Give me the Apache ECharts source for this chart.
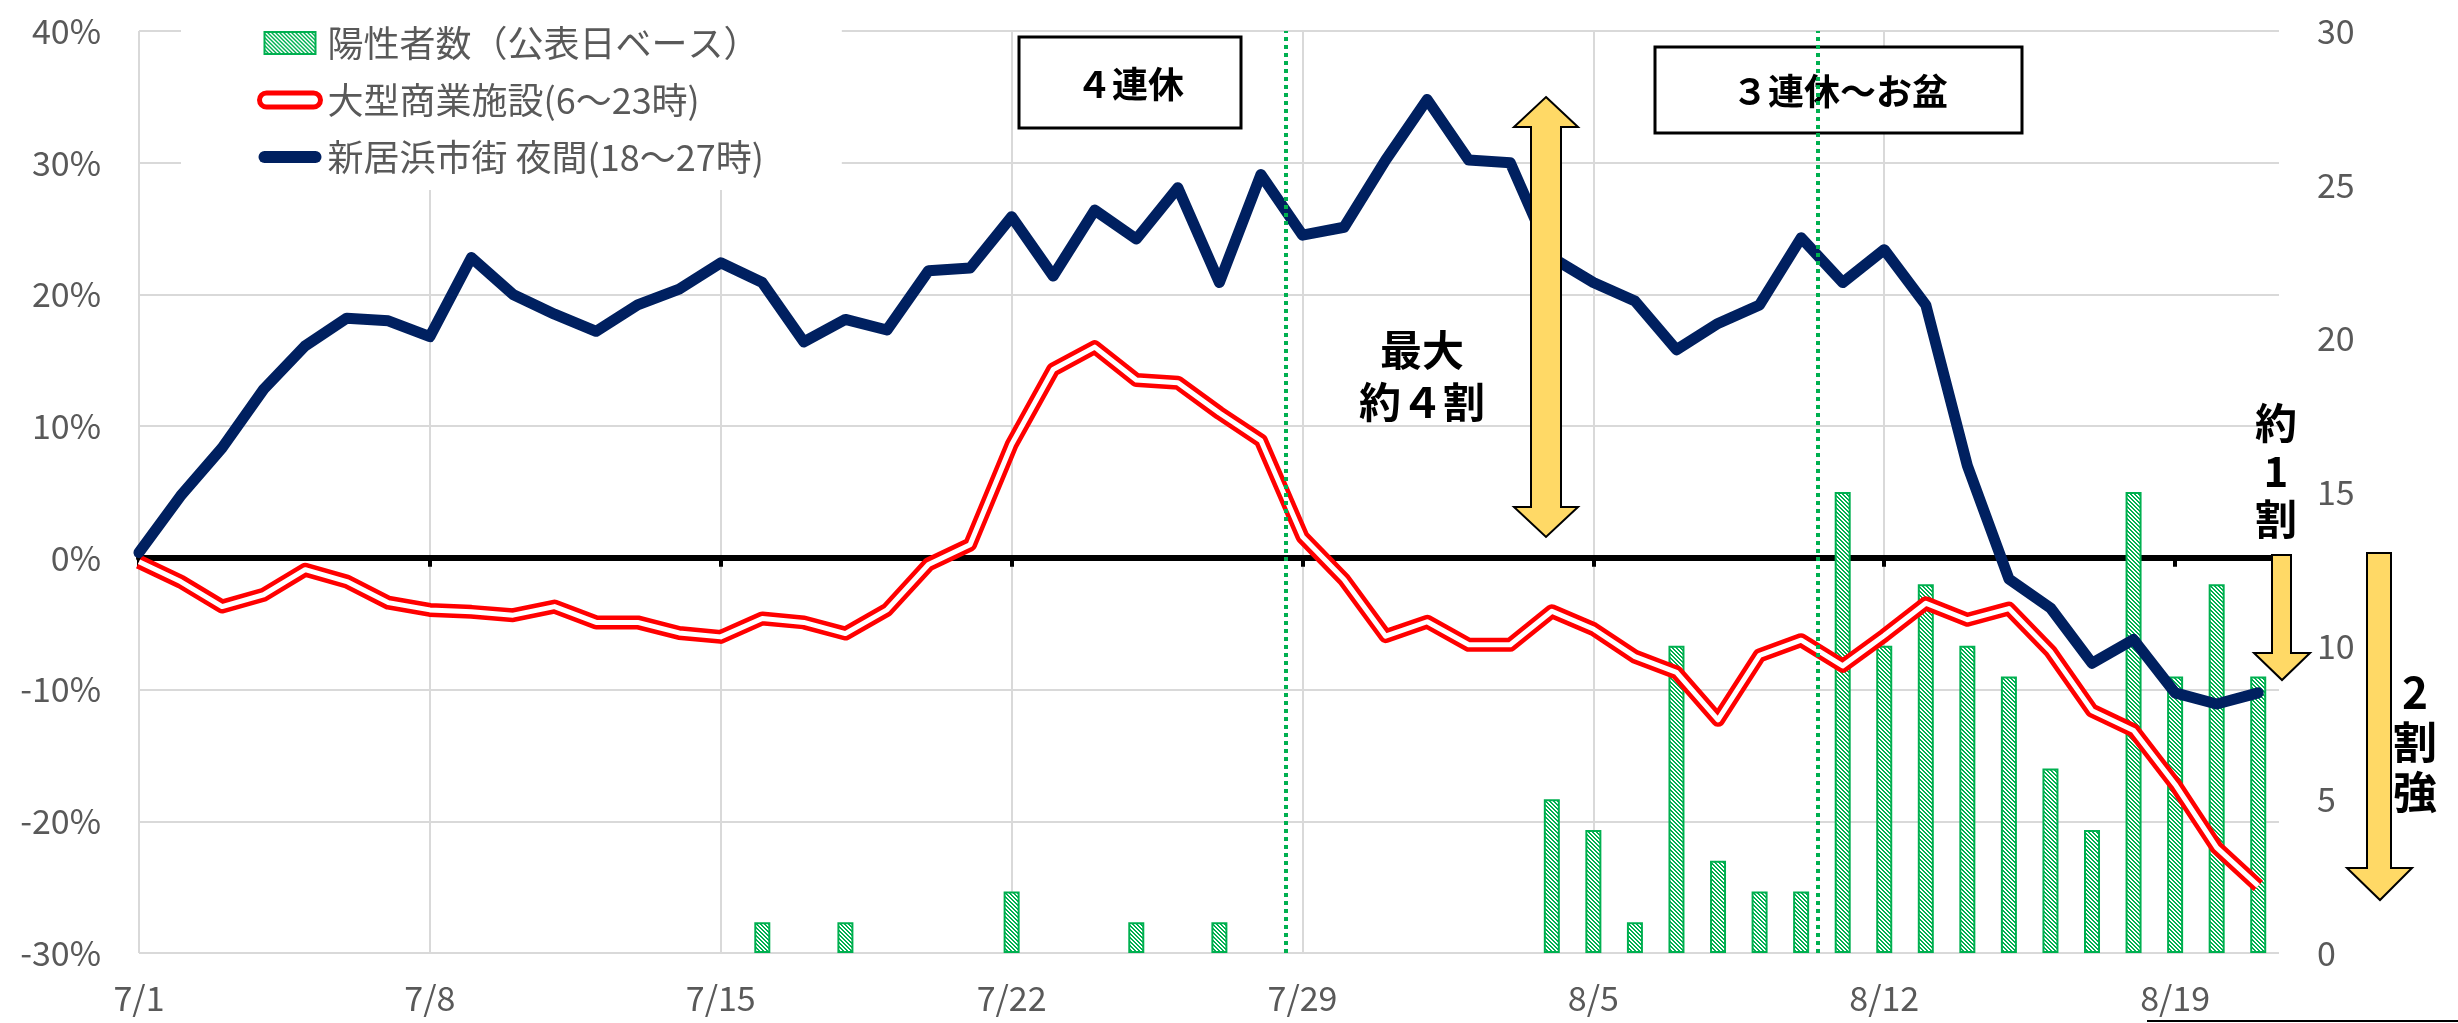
<!DOCTYPE html>
<html><head><meta charset="utf-8">
<script src="https://cdn.jsdelivr.net/npm/echarts@6/dist/echarts.min.js"></script>
<style>html,body{margin:0;padding:0;background:#fff}#c{width:2458px;height:1023px}</style>
</head><body><div id="c"></div>
<script>
// ---- data ----
const dates = ['7/1','7/2','7/3','7/4','7/5','7/6','7/7','7/8','7/9','7/10',
  '7/11','7/12','7/13','7/14','7/15','7/16','7/17','7/18','7/19','7/20',
  '7/21','7/22','7/23','7/24','7/25','7/26','7/27','7/28','7/29','7/30',
  '7/31','8/1','8/2','8/3','8/4','8/5','8/6','8/7','8/8','8/9',
  '8/10','8/11','8/12','8/13','8/14','8/15','8/16','8/17','8/18','8/19',
  '8/20','8/21'];
const xTickDays = [0,7,14,21,28,35,42,49];
const cases = [0,0,0,0,0,0,0,0,0,0, 0,0,0,0,0,1,0,1,0,0, 0,2,0,0,1,0,1,0,0,0,
  0,0,0,0,5,4,1,10,3,2, 2,15,10,12,10,9,6,4,15,9, 12,9];
const mall = [-0.3,-1.8,-3.7,-2.8,-0.9,-1.8,-3.4,-3.95,-4.1,-4.35,
  -3.7,-4.9,-4.9,-5.7,-6.0,-4.6,-4.9,-5.75,-3.95,-0.5,
  1.0,8.6,14.3,16.0,13.5,13.3,11.0,8.9,1.6,-1.65,
  -5.95,-4.85,-6.6,-6.6,-4.05,-5.4,-7.5,-8.7,-12.3,-7.4,
  -6.25,-8.2,-5.9,-3.45,-4.7,-3.85,-7.1,-11.6,-13.1,-17.2,
  -22.0,-24.9];
const night = [0.4,4.7,8.35,12.8,16.1,18.2,18.0,16.8,22.8,20.0,
  18.5,17.2,19.2,20.4,22.4,20.9,16.4,18.1,17.3,21.8,
  22.0,25.9,21.4,26.4,24.2,28.1,20.9,29.1,24.5,25.1,
  30.2,34.8,30.2,30.0,22.8,20.9,19.5,15.8,17.8,19.2,
  24.3,20.9,23.4,19.2,7.0,-1.6,-3.8,-8.0,-6.2,-10.25,
  -11.1,-10.25];
const holidayMarks = [27.6, 40.4];
const names = ['陽性者数（公表日ベース）','大型商業施設(6〜23時)','新居浜市街 夜間(18〜27時)'];

// hatch pattern
const tile = document.createElement('canvas');
tile.width = 4; tile.height = 4;
const tc = tile.getContext('2d');
tc.fillStyle = '#ffffff'; tc.fillRect(0,0,4,4);
tc.fillStyle = '#00B050';
for (let y = 0; y < 4; y++) for (let x = 0; x < 4; x++) {
  if ((((x - y) % 4) + 4) % 4 < 2) tc.fillRect(x, y, 1, 1);
}
const hatch = {image: tile, repeat: 'repeat'};

const FONT = "'Noto Sans CJK JP', 'Noto Sans', sans-serif";
const chart = echarts.init(document.getElementById('c'), null, {renderer: 'canvas'});
const pts = arr => arr.map((v, i) => [i, v]);

const option = {
  animation: false,
  backgroundColor: '#fff',
  textStyle: {fontFamily: FONT},
  grid: {left: 139, right: 179, top: 31, bottom: 70},
  legend: {
    orient: 'vertical', left: 181, top: 0,
    padding: [23, 78, 13, 74],
    backgroundColor: '#fff',
    itemWidth: 65, itemHeight: 24, itemGap: 17,
    selectedMode: false,
    textStyle: {fontSize: 36, color: '#595959', fontFamily: FONT, lineHeight: 40},
    data: [
      {name: names[0], icon: 'path://M0,0M65,24M7,1L58,1L58,23L7,23Z',
       itemStyle: {color: hatch, borderColor: '#00B050', borderWidth: 2}},
      {name: names[1], icon: 'path://M0,0M65,24M9,5L56,5A7,7,0,0,1,56,19L9,19A7,7,0,0,1,9,5Z',
       itemStyle: {color: '#fff', borderColor: '#FF0000', borderWidth: 5}},
      {name: names[2], icon: 'path://M0,0M65,24M7,6L58,6A6,6,0,0,1,58,18L7,18A6,6,0,0,1,7,6Z',
       itemStyle: {color: '#002060', borderWidth: 0}}
    ]
  },
  xAxis: [
    {type: 'value', min: 0, max: 51.5, position: 'bottom',
     axisLine: {show: false, onZero: false},
     axisTick: {show: false, customValues: xTickDays},
     axisLabel: {customValues: xTickDays, formatter: v => dates[v] || '', fontSize: 34, color: '#595959', margin: 28, fontFamily: FONT},
     splitLine: {show: true, showMaxLine: false, lineStyle: {color: '#D9D9D9', width: 2}}},
    {type: 'value', min: 0, max: 51.5, position: 'bottom',
     axisLine: {show: true, onZero: true, onZeroAxisIndex: 0, lineStyle: {color: '#000', width: 6}},
     axisTick: {show: true, length: 9, customValues: xTickDays, lineStyle: {color: '#000', width: 4}},
     axisLabel: {show: false},
     splitLine: {show: false}}
  ],
  yAxis: [
    {type: 'value', min: -30, max: 40, interval: 10, position: 'left',
     axisLine: {show: false}, axisTick: {show: false},
     axisLabel: {formatter: '{value}%', fontSize: 34, color: '#595959', margin: 38, fontFamily: FONT},
     splitLine: {lineStyle: {color: '#D9D9D9', width: 2}}},
    {type: 'value', min: 0, max: 30, interval: 5, position: 'right',
     axisLine: {show: false}, axisTick: {show: false},
     axisLabel: {fontSize: 34, color: '#595959', margin: 38, fontFamily: FONT},
     splitLine: {show: false}}
  ],
  series: [
    {name: names[0], type: 'bar', xAxisIndex: 0, yAxisIndex: 1, barWidth: 16,
     data: cases.map((v, i) => [i, v > 0 ? v : null]),
     itemStyle: {color: hatch, borderColor: '#00B050', borderWidth: 2},
     z: 2,
     markLine: {silent: true, symbol: 'none', label: {show: false},
       lineStyle: {color: '#00B050', type: [4, 4], width: 4},
       data: holidayMarks.map(x => ({xAxis: x}))}},
    {name: names[1], type: 'line', yAxisIndex: 0, symbol: 'none', data: pts(mall),
     lineStyle: {color: '#FF0000', width: 14, join: 'round'}, itemStyle: {color: '#FF0000'}, z: 3},
    {name: 'mall_inner', type: 'line', yAxisIndex: 0, symbol: 'none', data: pts(mall), silent: true,
     lineStyle: {color: '#FFFFFF', width: 5, join: 'round'}, itemStyle: {color: '#fff'}, z: 3},
    {name: names[2], type: 'line', yAxisIndex: 0, symbol: 'none', data: pts(night),
     lineStyle: {color: '#002060', width: 11, join: 'round', cap: 'round'}, itemStyle: {color: '#002060'}, z: 4}
  ],
  graphic: [
    {type: 'rect', z: 1, shape: {x: 1019, y: 37, width: 222, height: 91},
     style: {fill: '#fff', stroke: '#000', lineWidth: 3}},
    {type: 'text', z: 1, x: 1130, y: 84,
     style: {text: '４連休', fontSize: 36, fontWeight: 'bold', fontFamily: FONT, fill: '#000', align: 'center', verticalAlign: 'middle'}},
    {type: 'rect', z: 1, shape: {x: 1655, y: 47, width: 367, height: 86},
     style: {fill: '#fff', stroke: '#000', lineWidth: 3}},
    {type: 'text', z: 1, x: 1840, y: 91,
     style: {text: '３連休～お盆', fontSize: 36, fontWeight: 'bold', fontFamily: FONT, fill: '#000', align: 'center', verticalAlign: 'middle'}},
    {type: 'polygon', z: 10,
     shape: {points: [[1546,97],[1578,127],[1561,127],[1561,507],[1578,507],[1546,537],[1514,507],[1531,507],[1531,127],[1514,127]]},
     style: {fill: '#FFD966', stroke: '#000', lineWidth: 2}},
    {type: 'text', z: 10, x: 1422, y: 376,
     style: {text: '最大\n約４割', fontSize: 42, lineHeight: 52, fontWeight: 'bold', fontFamily: FONT, fill: '#000', align: 'center', verticalAlign: 'middle'}},
    {type: 'polygon', z: 10,
     shape: {points: [[2272,555],[2291,555],[2291,653],[2310,653],[2282,680],[2254,653],[2272,653]]},
     style: {fill: '#FFD966', stroke: '#000', lineWidth: 2}},
    {type: 'text', z: 10, x: 2276, y: 471,
     style: {text: '約\n1\n割', fontSize: 42, lineHeight: 48, fontWeight: 'bold', fontFamily: FONT, fill: '#000', align: 'center', verticalAlign: 'middle'}},
    {type: 'polygon', z: 10,
     shape: {points: [[2367,553],[2391,553],[2391,868],[2412,868],[2380,900],[2347,868],[2367,868]]},
     style: {fill: '#FFD966', stroke: '#000', lineWidth: 2}},
    {type: 'text', z: 10, x: 2415, y: 742,
     style: {text: '2\n割\n強', fontSize: 44, lineHeight: 50, fontWeight: 'bold', fontFamily: FONT, fill: '#000', align: 'center', verticalAlign: 'middle'}},
    {type: 'line', z: 10, shape: {x1: 2147, y1: 1021, x2: 2458, y2: 1021},
     style: {stroke: '#000', lineWidth: 2}}
  ]
};
chart.setOption(option);
</script>
</body></html>
